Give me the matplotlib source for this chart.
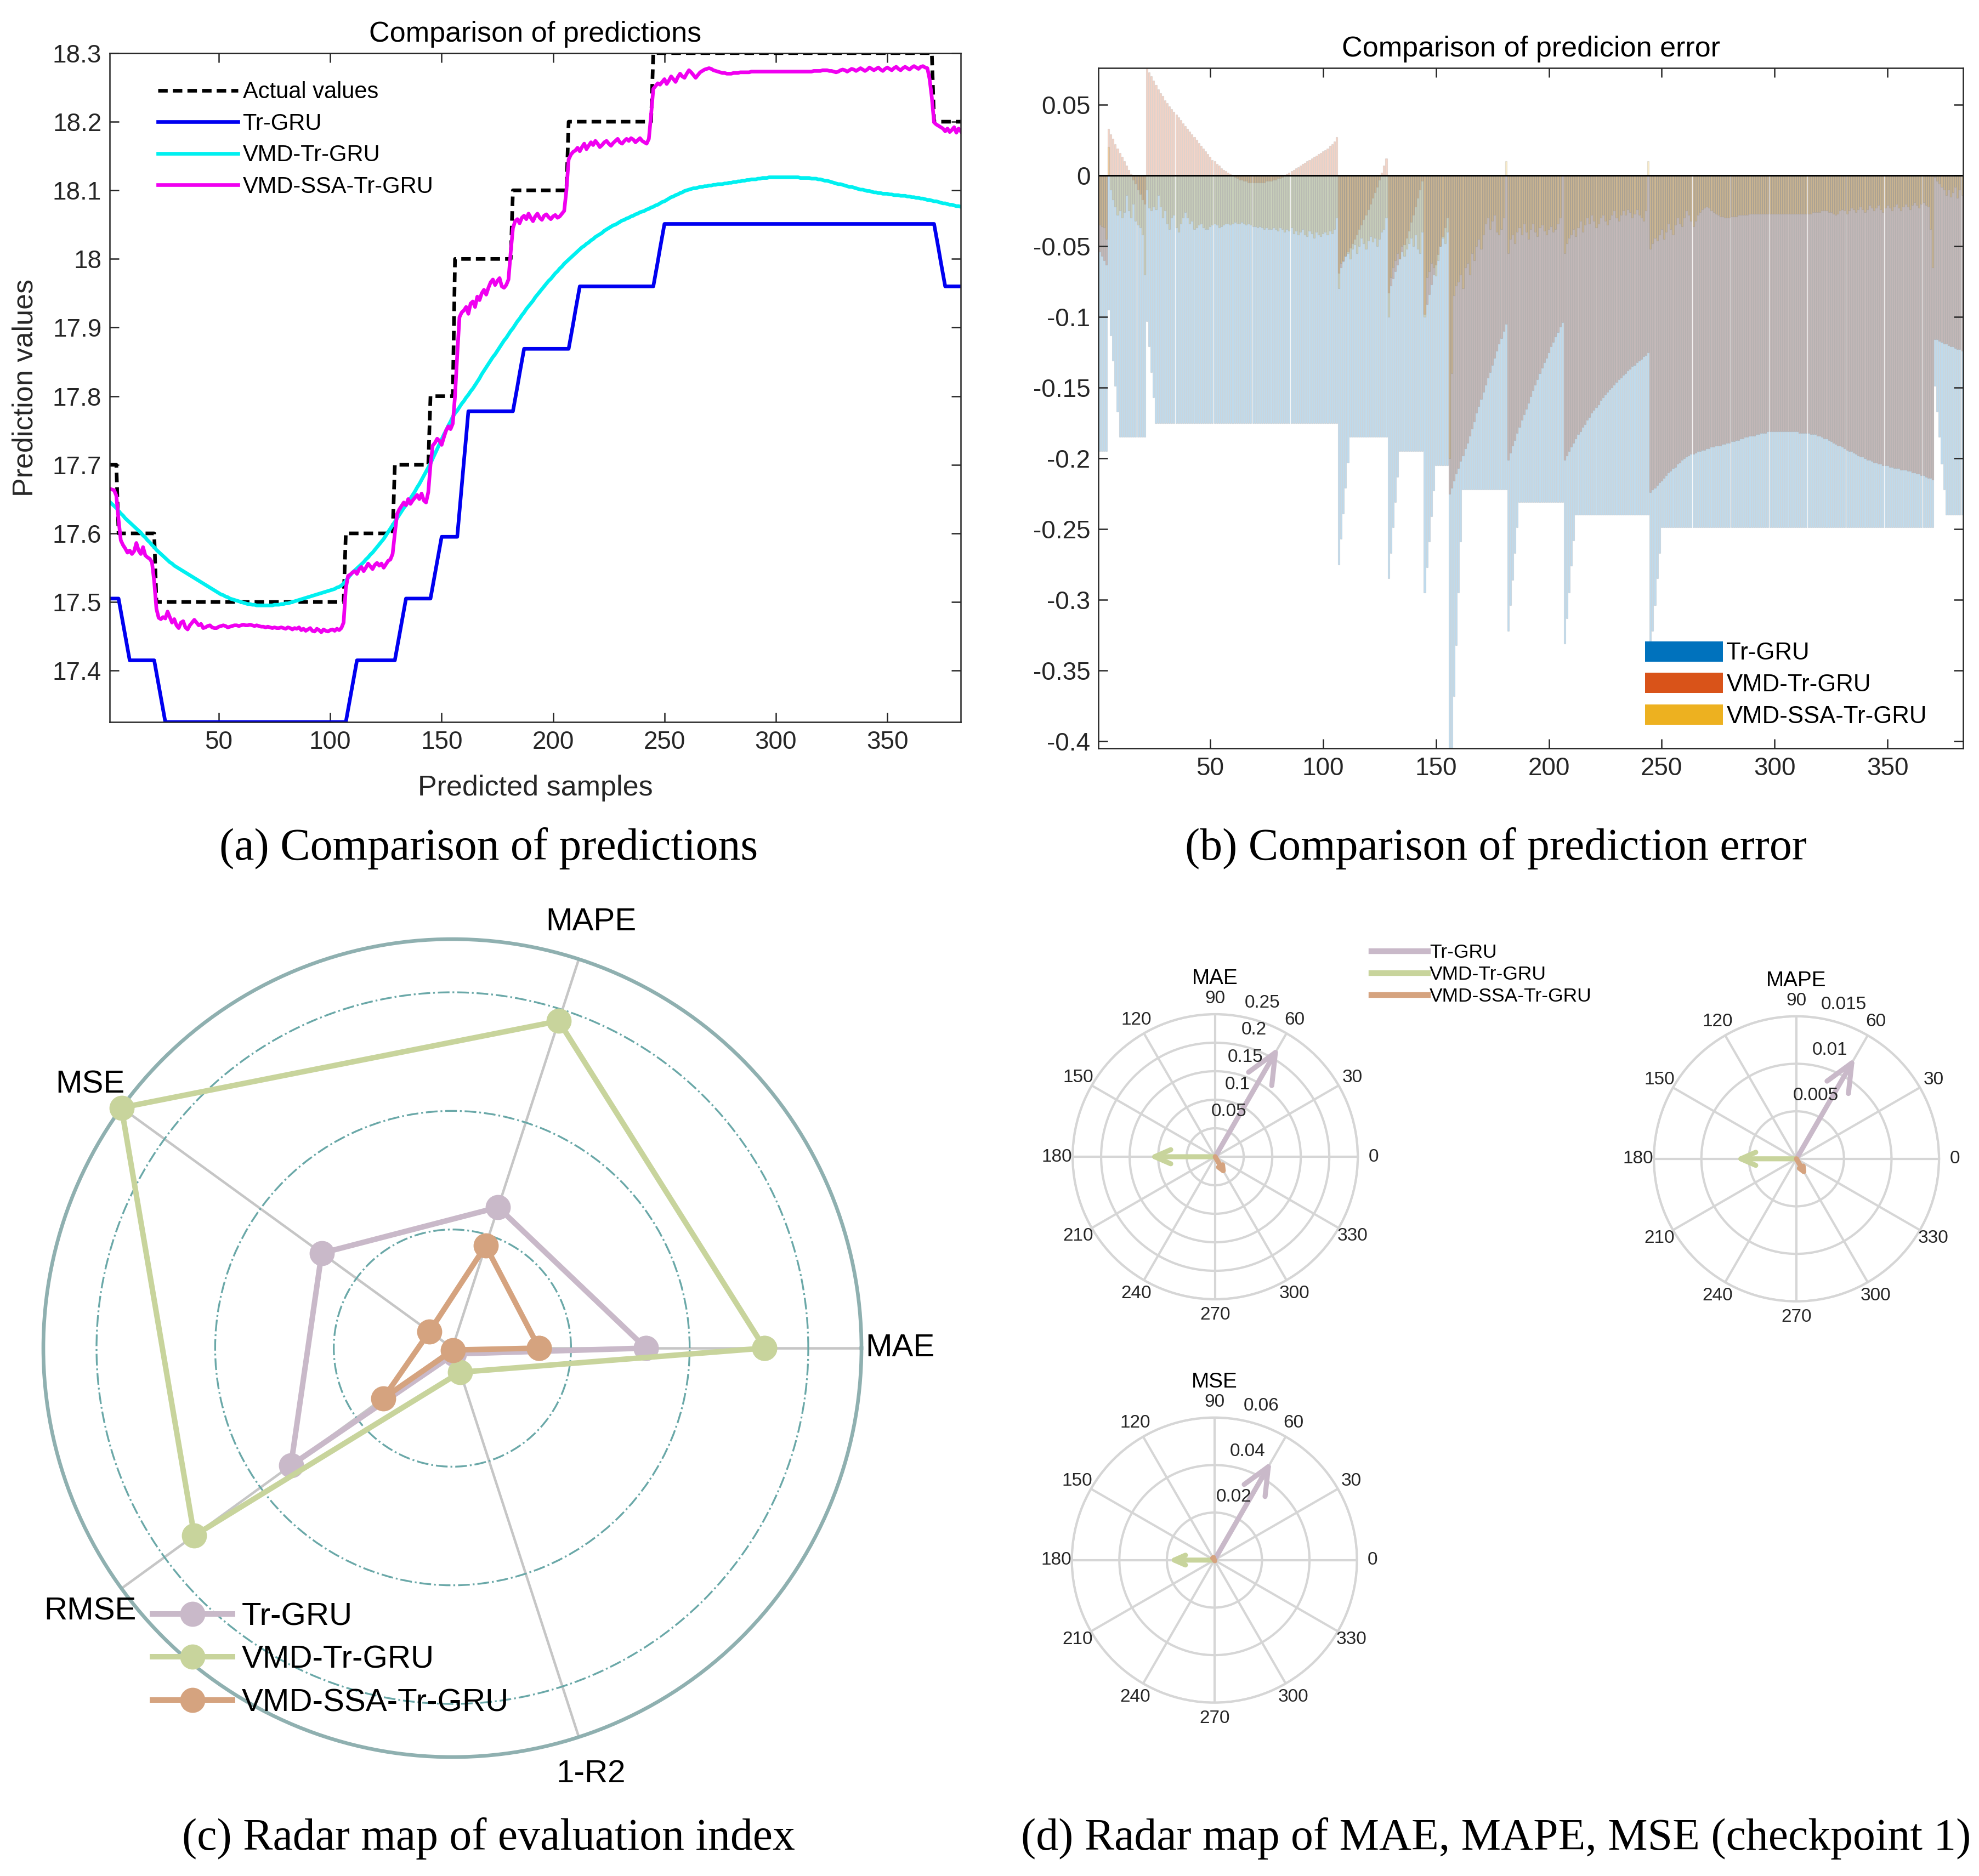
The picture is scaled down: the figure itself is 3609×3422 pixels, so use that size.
import numpy as np
import matplotlib
matplotlib.use("Agg")
import matplotlib.pyplot as plt
from matplotlib.lines import Line2D
from matplotlib.patches import Patch
from matplotlib.colors import to_rgba

plt.rcParams['font.family'] = ['Liberation Sans', 'DejaVu Sans']
plt.rcParams['axes.unicode_minus'] = False

# ---------------- data for (a) and (b): 383 predicted samples ----------------
actual_levels = [17.7, 17.6, 17.5, 17.6, 17.7, 17.8, 18.0, 18.1, 18.2, 18.3, 18.2]
actual_counts = [4, 17, 85, 22, 16, 11, 26, 25, 38, 126, 13]

tr_gru_levels = [17.505, 17.487, 17.469, 17.451, 17.433, 17.415, 17.397, 17.379, 17.361, 17.343,
                 17.325, 17.343, 17.361, 17.379, 17.397, 17.415, 17.433, 17.451, 17.469, 17.487,
                 17.505, 17.523, 17.541, 17.559, 17.577, 17.595, 17.632, 17.668, 17.705, 17.741,
                 17.778, 17.796, 17.814, 17.833, 17.851, 17.869, 17.887, 17.905, 17.924, 17.942,
                 17.960, 17.978, 17.996, 18.015, 18.033, 18.051, 18.033, 18.015, 17.996, 17.978,
                 17.960]
tr_gru_counts = [5, 1, 1, 1, 1, 12, 1, 1, 1, 1,
                 82, 1, 1, 1, 1, 18, 1, 1, 1, 1,
                 12, 1, 1, 1, 1, 8, 1, 1, 1, 1,
                 21, 1, 1, 1, 1, 21, 1, 1, 1, 1,
                 34, 1, 1, 1, 1, 122, 1, 1, 1, 1,
                 8]

vmd_tr_gru = [
    17.646, 17.643, 17.640, 17.637, 17.633, 17.629, 17.626, 17.622, 17.619, 17.616,
    17.613, 17.610, 17.607, 17.604, 17.601, 17.597, 17.594, 17.590, 17.587, 17.583,
    17.580, 17.576, 17.573, 17.570, 17.567, 17.564, 17.561, 17.558, 17.556, 17.553,
    17.551, 17.549, 17.547, 17.545, 17.543, 17.541, 17.539, 17.537, 17.535, 17.533,
    17.531, 17.529, 17.527, 17.525, 17.523, 17.521, 17.519, 17.517, 17.515, 17.513,
    17.511, 17.510, 17.508, 17.507, 17.505, 17.504, 17.503, 17.502, 17.501, 17.500,
    17.499, 17.498, 17.497, 17.497, 17.496, 17.496, 17.495, 17.495, 17.495, 17.495,
    17.495, 17.495, 17.495, 17.495, 17.496, 17.496, 17.496, 17.497, 17.497, 17.498,
    17.498, 17.499, 17.500, 17.501, 17.502, 17.503, 17.504, 17.505, 17.506, 17.507,
    17.508, 17.509, 17.510, 17.511, 17.512, 17.513, 17.514, 17.515, 17.516, 17.517,
    17.518, 17.519, 17.521, 17.522, 17.524, 17.527, 17.531, 17.535, 17.539, 17.543,
    17.546, 17.549, 17.552, 17.555, 17.558, 17.562, 17.565, 17.569, 17.572, 17.576,
    17.580, 17.584, 17.588, 17.592, 17.597, 17.602, 17.607, 17.612, 17.617, 17.622,
    17.627, 17.632, 17.637, 17.641, 17.646, 17.651, 17.656, 17.661, 17.667, 17.672,
    17.678, 17.684, 17.690, 17.696, 17.702, 17.709, 17.716, 17.723, 17.730, 17.737,
    17.744, 17.750, 17.757, 17.763, 17.770, 17.775, 17.779, 17.784, 17.789, 17.793,
    17.798, 17.802, 17.807, 17.811, 17.816, 17.821, 17.826, 17.832, 17.837, 17.842,
    17.847, 17.852, 17.857, 17.861, 17.866, 17.871, 17.876, 17.881, 17.885, 17.890,
    17.895, 17.899, 17.904, 17.909, 17.913, 17.918, 17.922, 17.927, 17.931, 17.935,
    17.939, 17.944, 17.948, 17.952, 17.956, 17.960, 17.964, 17.968, 17.971, 17.975,
    17.979, 17.982, 17.986, 17.989, 17.993, 17.996, 17.999, 18.002, 18.005, 18.008,
    18.011, 18.014, 18.017, 18.019, 18.022, 18.024, 18.027, 18.029, 18.032, 18.034,
    18.036, 18.038, 18.041, 18.043, 18.045, 18.047, 18.049, 18.050, 18.052, 18.054,
    18.056, 18.057, 18.059, 18.060, 18.062, 18.063, 18.065, 18.066, 18.068, 18.069,
    18.070, 18.072, 18.073, 18.075, 18.076, 18.078, 18.079, 18.081, 18.083, 18.084,
    18.086, 18.088, 18.090, 18.091, 18.093, 18.094, 18.096, 18.097, 18.099, 18.100,
    18.101, 18.102, 18.103, 18.103, 18.104, 18.105, 18.105, 18.106, 18.106, 18.107,
    18.107, 18.108, 18.108, 18.109, 18.109, 18.109, 18.110, 18.110, 18.111, 18.111,
    18.112, 18.112, 18.113, 18.113, 18.114, 18.114, 18.115, 18.115, 18.116, 18.116,
    18.116, 18.117, 18.117, 18.118, 18.118, 18.118, 18.119, 18.119, 18.119, 18.119,
    18.119, 18.119, 18.119, 18.119, 18.119, 18.119, 18.119, 18.119, 18.119, 18.119,
    18.118, 18.118, 18.118, 18.118, 18.118, 18.117, 18.117, 18.117, 18.116, 18.116,
    18.115, 18.114, 18.114, 18.113, 18.112, 18.111, 18.110, 18.109, 18.109, 18.108,
    18.107, 18.106, 18.105, 18.105, 18.104, 18.103, 18.102, 18.101, 18.101, 18.100,
    18.099, 18.099, 18.098, 18.097, 18.097, 18.096, 18.096, 18.095, 18.095, 18.095,
    18.094, 18.094, 18.093, 18.093, 18.093, 18.092, 18.092, 18.092, 18.091, 18.091,
    18.090, 18.090, 18.089, 18.089, 18.088, 18.088, 18.087, 18.086, 18.086, 18.085,
    18.084, 18.084, 18.083, 18.082, 18.081, 18.081, 18.080, 18.079, 18.079, 18.078,
    18.077, 18.077, 18.076]

vmd_ssa_tr_gru = [
    17.665, 17.664, 17.663, 17.655, 17.620, 17.590, 17.583, 17.578, 17.572, 17.575,
    17.570, 17.574, 17.586, 17.575, 17.570, 17.580, 17.568, 17.565, 17.563, 17.558,
    17.530, 17.490, 17.477, 17.475, 17.478, 17.476, 17.486, 17.478, 17.470, 17.475,
    17.466, 17.462, 17.470, 17.472, 17.463, 17.460, 17.466, 17.470, 17.474, 17.470,
    17.466, 17.468, 17.462, 17.463, 17.465, 17.466, 17.463, 17.462, 17.462, 17.464,
    17.465, 17.466, 17.465, 17.463, 17.464, 17.465, 17.466, 17.466, 17.465, 17.466,
    17.467, 17.466, 17.466, 17.467, 17.466, 17.465, 17.466, 17.465, 17.464, 17.464,
    17.463, 17.464, 17.463, 17.462, 17.463, 17.462, 17.462, 17.463, 17.462, 17.461,
    17.463, 17.462, 17.460, 17.462, 17.461, 17.463, 17.459, 17.461, 17.458, 17.460,
    17.462, 17.458, 17.457, 17.461, 17.459, 17.456, 17.460, 17.458, 17.457, 17.459,
    17.460, 17.458, 17.461, 17.459, 17.462, 17.470, 17.520, 17.538, 17.540, 17.543,
    17.545, 17.541, 17.548, 17.551, 17.545, 17.550, 17.556, 17.552, 17.548, 17.554,
    17.557, 17.553, 17.556, 17.550, 17.555, 17.560, 17.562, 17.570, 17.600, 17.628,
    17.635, 17.640, 17.645, 17.641, 17.650, 17.643, 17.648, 17.652, 17.656, 17.650,
    17.658, 17.648, 17.645, 17.660, 17.700, 17.728, 17.732, 17.738, 17.735, 17.729,
    17.740, 17.750, 17.756, 17.752, 17.760, 17.800, 17.860, 17.915, 17.922, 17.925,
    17.930, 17.920, 17.935, 17.938, 17.930, 17.945, 17.940, 17.950, 17.955, 17.948,
    17.958, 17.966, 17.970, 17.962, 17.968, 17.972, 17.960, 17.958, 17.962, 17.970,
    18.010, 18.045, 18.055, 18.058, 18.052, 18.060, 18.063, 18.058, 18.066, 18.060,
    18.055, 18.062, 18.066, 18.060, 18.057, 18.063, 18.065, 18.061, 18.058, 18.062,
    18.064, 18.060, 18.062, 18.066, 18.070, 18.100, 18.145, 18.152, 18.156, 18.158,
    18.162, 18.157, 18.163, 18.168, 18.160, 18.165, 18.170, 18.166, 18.172, 18.168,
    18.163, 18.166, 18.170, 18.172, 18.168, 18.165, 18.169, 18.172, 18.175, 18.170,
    18.168, 18.172, 18.175, 18.172, 18.176, 18.174, 18.170, 18.173, 18.176, 18.172,
    18.170, 18.168, 18.175, 18.210, 18.248, 18.252, 18.256, 18.254, 18.258, 18.262,
    18.255, 18.260, 18.266, 18.262, 18.258, 18.265, 18.270, 18.266, 18.264, 18.270,
    18.275, 18.272, 18.268, 18.264, 18.268, 18.272, 18.274, 18.276, 18.277, 18.278,
    18.277, 18.275, 18.274, 18.273, 18.272, 18.271, 18.271, 18.270, 18.270, 18.270,
    18.271, 18.271, 18.271, 18.272, 18.272, 18.272, 18.272, 18.272, 18.273, 18.273,
    18.273, 18.273, 18.273, 18.273, 18.273, 18.273, 18.273, 18.273, 18.273, 18.273,
    18.273, 18.273, 18.273, 18.273, 18.273, 18.273, 18.273, 18.273, 18.273, 18.273,
    18.273, 18.273, 18.273, 18.273, 18.273, 18.273, 18.274, 18.274, 18.274, 18.274,
    18.275, 18.275, 18.275, 18.274, 18.274, 18.273, 18.272, 18.273, 18.275, 18.276,
    18.275, 18.273, 18.275, 18.277, 18.276, 18.274, 18.276, 18.278, 18.276, 18.274,
    18.276, 18.279, 18.277, 18.275, 18.277, 18.279, 18.276, 18.274, 18.277, 18.279,
    18.277, 18.275, 18.278, 18.280, 18.277, 18.275, 18.278, 18.280, 18.278, 18.276,
    18.279, 18.281, 18.279, 18.277, 18.280, 18.281, 18.279, 18.278, 18.262, 18.235,
    18.199, 18.196, 18.194, 18.192, 18.190, 18.186, 18.190, 18.185, 18.188, 18.192,
    18.184, 18.190, 18.186]

x_ticks = [50, 100, 150, 200, 250, 300, 350]
a_yticks = [17.4, 17.5, 17.6, 17.7, 17.8, 17.9, 18.0, 18.1, 18.2, 18.3]
b_yticks = [-0.4, -0.35, -0.3, -0.25, -0.2, -0.15, -0.1, -0.05, 0, 0.05]

# ---------------- data for (c): normalised radar ----------------
radar_labels = ['MAE', 'MAPE', 'MSE', 'RMSE', '1-R2']
radar_tr_gru = [0.473, 0.362, 0.395, 0.488, 0.015]
radar_vmd_tr_gru = [0.763, 0.841, 1.0, 0.780, 0.062]
radar_vmd_ssa_tr_gru = [0.212, 0.263, 0.069, 0.209, 0.005]
radar_rings = [0.29, 0.58, 0.87]

# ---------------- data for (d): compass plots (checkpoint 1) ----------------
models = ['Tr-GRU', 'VMD-Tr-GRU', 'VMD-SSA-Tr-GRU']
compass_angles = [60, 180, 300]
mae_vals = [0.222, 0.117, 0.039]
mape_vals = [0.0123, 0.0065, 0.0022]
mse_vals = [0.048, 0.0195, 0.002]

matlab_colors = ['#0072BD', '#D95319', '#EDB120']
soft_colors = ['#C9B9C9', '#C8D49C', '#D5A37F']

# ---------------- derived series ----------------
actual = np.repeat(actual_levels, actual_counts)
tr_gru = np.repeat(tr_gru_levels, tr_gru_counts)
vmd = np.array(vmd_tr_gru)
ssa = np.array(vmd_ssa_tr_gru)
n = len(actual)
samples = np.arange(1, n + 1)
err_tr = tr_gru - actual
err_vmd = vmd - actual
err_ssa = ssa - actual

fig = plt.figure(figsize=(3609 / 300, 3422 / 300), dpi=300)
tick_col = '#262626'

# ---------------- (a) ----------------
ax = fig.add_axes([0.0554, 0.6151, 0.4301, 0.3566])
ax.plot(samples, actual, color='k', lw=1.6, dashes=(2.6, 1.4), label='Actual values')
ax.plot(samples, tr_gru, color='#0000F0', lw=1.6, label='Tr-GRU')
ax.plot(samples, vmd, color='#00F0F0', lw=1.6, label='VMD-Tr-GRU')
ax.plot(samples, ssa, color='#F000F0', lw=1.6, label='VMD-SSA-Tr-GRU')
ax.set_xlim(1, n)
ax.set_ylim(tr_gru.min(), actual.max())
ax.set_xticks(x_ticks)
ax.set_yticks(a_yticks)
ax.set_yticklabels(['%g' % v for v in a_yticks])
ax.tick_params(direction='in', top=True, right=True, length=4, width=0.6,
               labelsize=11, colors=tick_col, labelcolor=tick_col)
for s in ax.spines.values():
    s.set_linewidth(0.6)
    s.set_color(tick_col)
ax.set_xlabel('Predicted samples', fontsize=12.5, color=tick_col, labelpad=9)
ax.set_ylabel('Prediction values', fontsize=12.5, color=tick_col, labelpad=6)
ax.set_title('Comparison of predictions', fontsize=12.5, pad=5)
ax.legend(loc='upper left', bbox_to_anchor=(0.057, 0.958), frameon=False, fontsize=10,
          handlelength=3.5, labelspacing=0.42, handletextpad=0.2, borderpad=0, borderaxespad=0)

# ---------------- (b) ----------------
ax = fig.add_axes([0.555, 0.6011, 0.437, 0.3627])
for err, c in zip([err_tr, err_vmd, err_ssa], matlab_colors):
    ax.bar(samples, err, width=0.75, color=to_rgba(c, 0.24),
           edgecolor=(0.25, 0.25, 0.25, 0.12), linewidth=0.3)
ax.axhline(0, color='k', lw=0.7)
ax.set_xlim(0.5, n + 0.5)
ax.set_ylim(min(err_tr.min(), err_vmd.min(), err_ssa.min()),
            max(err_tr.max(), err_vmd.max(), err_ssa.max()))
ax.set_xticks(x_ticks)
ax.set_yticks(b_yticks)
ax.set_yticklabels(['%g' % v for v in b_yticks])
ax.tick_params(direction='in', top=True, right=True, length=4, width=0.6,
               labelsize=11, colors=tick_col, labelcolor=tick_col)
for s in ax.spines.values():
    s.set_linewidth(0.6)
    s.set_color(tick_col)
ax.set_title('Comparison of predicion error', fontsize=12.5, pad=5)
patches = [Patch(facecolor=c, edgecolor='none') for c in matlab_colors]
ax.legend(patches, models, loc='lower left', bbox_to_anchor=(0.632, 0.030), frameon=False,
          fontsize=10.5, handlelength=3.25, handleheight=0.92, labelspacing=0.35,
          handletextpad=0.15, borderpad=0, borderaxespad=0)

# ---------------- (c) radar ----------------
spoke_deg = [0, 72, 144, 216, 288]
theta = np.deg2rad(spoke_deg + [spoke_deg[0]])
axc = fig.add_axes([0.0219, 0.0634, 0.4134, 0.436], projection='polar')
radar_series = [radar_tr_gru, radar_vmd_tr_gru, radar_vmd_ssa_tr_gru]
for vals, c, lab in zip(radar_series, soft_colors, models):
    axc.plot(theta, vals + [vals[0]], color=c, lw=2.4, marker='o', ms=10,
             clip_on=False, zorder=4, label=lab)
axc.set_ylim(0, 1.0)
axc.set_xticks(np.deg2rad(spoke_deg))
axc.set_xticklabels([])
axc.set_yticks(radar_rings)
axc.set_yticklabels([])
axc.xaxis.grid(True, color='#c6c6c6', lw=1.1, ls='-')
axc.yaxis.grid(True, color='#6aa8a8', lw=0.8, ls='-.')
axc.spines['polar'].set_color('#8fb0b0')
axc.spines['polar'].set_linewidth(1.6)
for a, lab in zip(spoke_deg, radar_labels):
    axc.text(np.deg2rad(a), 1.095, lab, ha='center', va='center', fontsize=14)
fig.legend(*axc.get_legend_handles_labels(), loc='upper left', bbox_to_anchor=(0.077, 0.146),
           frameon=False, fontsize=14, handlelength=2.5, labelspacing=0.42,
           handletextpad=0.3, borderpad=0, borderaxespad=0)


# ---------------- (d) compass plots ----------------
def compass_panel(rect, vals, rmax, rticks, title):
    axp = fig.add_axes(rect, projection='polar')
    for ang, v, c in zip(compass_angles, vals, soft_colors):
        axp.annotate('', xy=(np.deg2rad(ang), v), xytext=(0, 0),
                     arrowprops=dict(arrowstyle='->,head_length=0.5,head_width=0.22',
                                     color=c, lw=2.2, shrinkA=0, shrinkB=0,
                                     mutation_scale=30 * v / rmax))
    axp.set_ylim(0, rmax)
    axp.set_yticks(rticks)
    axp.set_yticklabels([])
    axp.set_xticks(np.deg2rad(np.arange(0, 360, 30)))
    axp.set_xticklabels([])
    axp.grid(True, color='#d6d6d6', lw=1.0)
    axp.spines['polar'].set_color('#d6d6d6')
    axp.spines['polar'].set_linewidth(1.0)
    for d in range(0, 360, 30):
        axp.text(np.deg2rad(d), rmax * 1.11, str(d), ha='center', va='center',
                 fontsize=8, color=tick_col)
    for t in rticks:
        axp.text(np.deg2rad(73), t + rmax * 0.13, '%g' % t, ha='center', va='center',
                 fontsize=8, color=tick_col)
    axp.text(0.5, 1.125, title, transform=axp.transAxes, ha='center', va='center', fontsize=9.3)
    return axp


compass_panel([0.542, 0.3074, 0.1441, 0.152], mae_vals, 0.25, [0.05, 0.1, 0.15, 0.2, 0.25], 'MAE')
compass_panel([0.8357, 0.3063, 0.1441, 0.152], mape_vals, 0.015, [0.005, 0.01, 0.015], 'MAPE')
compass_panel([0.5416, 0.0924, 0.1441, 0.152], mse_vals, 0.06, [0.02, 0.04, 0.06], 'MSE')
d_handles = [Line2D([], [], color=c, lw=2.5) for c in soft_colors]
fig.legend(d_handles, models, loc='upper left', bbox_to_anchor=(0.693, 0.497), frameon=False,
           fontsize=8.5, handlelength=2.9, labelspacing=0.2, handletextpad=0.1,
           borderpad=0, borderaxespad=0)

# ---------------- captions ----------------
cap = dict(family=['Liberation Serif', 'DejaVu Serif'], fontsize=19.6, ha='center', va='center')
fig.text(0.2469, 0.5479, '(a) Comparison of predictions', **cap)
fig.text(0.7559, 0.5479, '(b) Comparison of prediction error', **cap)
fig.text(0.2469, 0.0199, '(c) Radar map of evaluation index', **cap)
fig.text(0.7559, 0.0199, '(d) Radar map of MAE, MAPE, MSE (checkpoint 1)', **cap)

fig.savefig('out.png', dpi=300, facecolor='white')
